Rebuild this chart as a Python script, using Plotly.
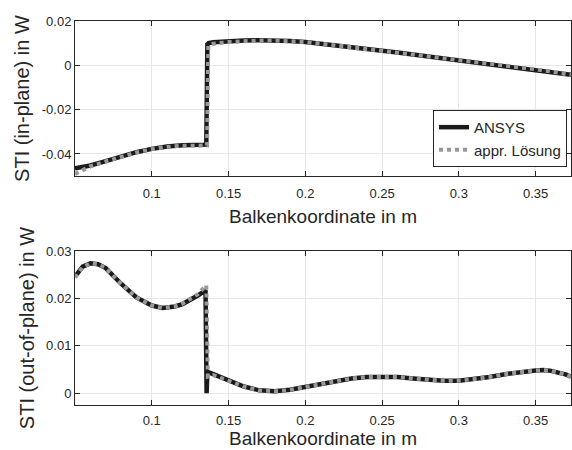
import plotly.graph_objects as go

# ---- data: in-plane (top) ----
x_in_ansys = [0.05, 0.055, 0.06, 0.07, 0.08, 0.09, 0.10, 0.11, 0.12, 0.13, 0.1355,
              0.1362, 0.137, 0.14, 0.15, 0.16, 0.17, 0.18, 0.19, 0.20, 0.21, 0.22, 0.23,
              0.24, 0.25, 0.26, 0.27, 0.28, 0.29, 0.30, 0.31, 0.32, 0.33, 0.34, 0.35,
              0.36, 0.373]
y_in_ansys = [-0.0465, -0.0460, -0.0452, -0.0432, -0.0411, -0.0392, -0.0377, -0.0366, -0.0361,
              -0.0359, -0.0358, 0.0095, 0.0100, 0.0104, 0.0109, 0.0112, 0.0113, 0.0113, 0.0110,
              0.0105, 0.0098, 0.0090, 0.0082, 0.0074, 0.0066, 0.0058, 0.0049, 0.0040, 0.0031,
              0.0022, 0.0014, 0.0007, 0.0000, -0.0009, -0.0018, -0.0028, -0.0043]

x_in_appr = [0.05, 0.055, 0.06, 0.07, 0.08, 0.09, 0.10, 0.11, 0.12, 0.13, 0.136,
             0.1368, 0.14, 0.15, 0.16, 0.17, 0.18, 0.19, 0.20, 0.21, 0.22, 0.23,
             0.24, 0.25, 0.26, 0.27, 0.28, 0.29, 0.30, 0.31, 0.32, 0.33, 0.34, 0.35,
             0.36, 0.373]
y_in_appr = [-0.0490, -0.0472, -0.0456, -0.0434, -0.0412, -0.0393, -0.0378, -0.0368, -0.0363,
             -0.0362, -0.0362, 0.0088, 0.0097, 0.0105, 0.0110, 0.0112, 0.0112, 0.0110,
             0.0105, 0.0098, 0.0090, 0.0082, 0.0074, 0.0066, 0.0058, 0.0049, 0.0040, 0.0031,
             0.0022, 0.0014, 0.0007, 0.0000, -0.0009, -0.0018, -0.0028, -0.0043]

# ---- data: out-of-plane (bottom) ----
x_out_ansys = [0.05, 0.055, 0.06, 0.065, 0.07, 0.08, 0.09, 0.10, 0.107, 0.115, 0.12, 0.125,
               0.13, 0.135, 0.1357, 0.1362, 0.14, 0.15, 0.16, 0.17, 0.18, 0.19, 0.20, 0.21,
               0.22, 0.23, 0.24, 0.25, 0.26, 0.27, 0.28, 0.29, 0.30, 0.31, 0.32, 0.33, 0.34,
               0.35, 0.355, 0.36, 0.37, 0.373]
y_out_ansys = [0.0246, 0.0267, 0.0274, 0.0272, 0.0264, 0.0231, 0.0202, 0.0185, 0.0180, 0.0183,
               0.0188, 0.0196, 0.0206, 0.0217, 0.0000, 0.0045, 0.0040, 0.0027, 0.0014, 0.0006,
               0.0004, 0.0007, 0.0013, 0.0020, 0.0026, 0.0031, 0.0034, 0.0035, 0.0034, 0.0031,
               0.0028, 0.0026, 0.0026, 0.0029, 0.0034, 0.0040, 0.0045, 0.0048, 0.0049, 0.0047,
               0.0039, 0.0035]

x_out_appr = [0.05, 0.055, 0.06, 0.065, 0.07, 0.08, 0.09, 0.10, 0.107, 0.115, 0.12, 0.125,
              0.13, 0.1355, 0.1365, 0.14, 0.15, 0.16, 0.17, 0.18, 0.19, 0.20, 0.21,
              0.22, 0.23, 0.24, 0.25, 0.26, 0.27, 0.28, 0.29, 0.30, 0.31, 0.32, 0.33, 0.34,
              0.35, 0.355, 0.36, 0.37, 0.373]
y_out_appr = [0.0244, 0.0266, 0.0274, 0.0272, 0.0264, 0.0231, 0.0202, 0.0185, 0.0180, 0.0183,
              0.0189, 0.0198, 0.0209, 0.0228, 0.0035, 0.0038, 0.0027, 0.0014, 0.0006,
              0.0004, 0.0007, 0.0013, 0.0020, 0.0026, 0.0031, 0.0034, 0.0035, 0.0034, 0.0031,
              0.0028, 0.0026, 0.0026, 0.0029, 0.0034, 0.0040, 0.0045, 0.0048, 0.0049, 0.0047,
              0.0039, 0.0035]

x_ticks = [0.1, 0.15, 0.2, 0.25, 0.3, 0.35]
x_ticktext = ["0.1", "0.15", "0.2", "0.25", "0.3", "0.35"]
y_in_ticks = [-0.04, -0.02, 0, 0.02]
y_in_ticktext = ["-0.04", "-0.02", "0", "0.02"]
y_out_ticks = [0, 0.01, 0.02, 0.03]
y_out_ticktext = ["0", "0.01", "0.02", "0.03"]

BLACK = "#1a1a1a"
GRAY = "#999999"
AX = "#262626"
FONT = "Liberation Sans, Arial, sans-serif"

fig = go.Figure()
fig.add_trace(go.Scatter(x=x_in_ansys, y=y_in_ansys, mode="lines", name="ANSYS",
                         line=dict(color=BLACK, width=4.5), xaxis="x", yaxis="y"))
fig.add_trace(go.Scatter(x=x_in_appr, y=y_in_appr, mode="lines", name="appr. Lösung",
                         line=dict(color=GRAY, width=4, dash="4px,4px"), xaxis="x", yaxis="y"))
fig.add_trace(go.Scatter(x=x_out_ansys, y=y_out_ansys, mode="lines", showlegend=False,
                         line=dict(color=BLACK, width=4.5), xaxis="x2", yaxis="y2"))
fig.add_trace(go.Scatter(x=x_out_appr, y=y_out_appr, mode="lines", showlegend=False,
                         line=dict(color=GRAY, width=4, dash="4px,4px"), xaxis="x2", yaxis="y2"))

common_axis = dict(showline=True, linecolor=AX, linewidth=1, mirror="ticks",
                   ticks="inside", ticklen=5, tickcolor=AX, showgrid=True,
                   gridcolor="#e8e8e8", gridwidth=1, zeroline=False,
                   tickfont=dict(size=13, color=AX, family=FONT))

fig.update_layout(
    width=572, height=450,
    margin=dict(l=75, r=1, t=21, b=45),
    paper_bgcolor="white", plot_bgcolor="white",
    font=dict(family=FONT, color=AX),
    xaxis=dict(common_axis, domain=[0, 1], range=[0.05, 0.373], anchor="y",
               tickvals=x_ticks, ticktext=x_ticktext, ticklabelstandoff=5,
               title=dict(text="Balkenkoordinate in m", font=dict(size=19, color=AX), standoff=9)),
    yaxis=dict(common_axis, domain=[0.596, 1], range=[-0.05, 0.02], anchor="x",
               tickvals=y_in_ticks, ticktext=y_in_ticktext,
               title=dict(text="STI (in-plane) in W", font=dict(size=20, color=AX), standoff=6)),
    xaxis2=dict(common_axis, domain=[0, 1], range=[0.05, 0.373], anchor="y2",
                tickvals=x_ticks, ticktext=x_ticktext, ticklabelstandoff=3,
                title=dict(text="Balkenkoordinate in m", font=dict(size=19, color=AX), standoff=3)),
    yaxis2=dict(common_axis, domain=[0, 0.401], range=[-0.0025, 0.03], anchor="x2",
                tickvals=y_out_ticks, ticktext=y_out_ticktext,
                title=dict(text="STI (out-of-plane) in W", font=dict(size=20, color=AX), standoff=6)),
    legend=dict(x=0.992, y=0.62, xanchor="right", yanchor="bottom",
                bgcolor="white", bordercolor=AX, borderwidth=1,
                font=dict(size=15, color=AX, family=FONT),
                tracegroupgap=0),
)

fig.write_html("out.html", config={"displayModeBar": False},
               post_script="document.body.style.margin='0';document.body.style.overflow='hidden';")
